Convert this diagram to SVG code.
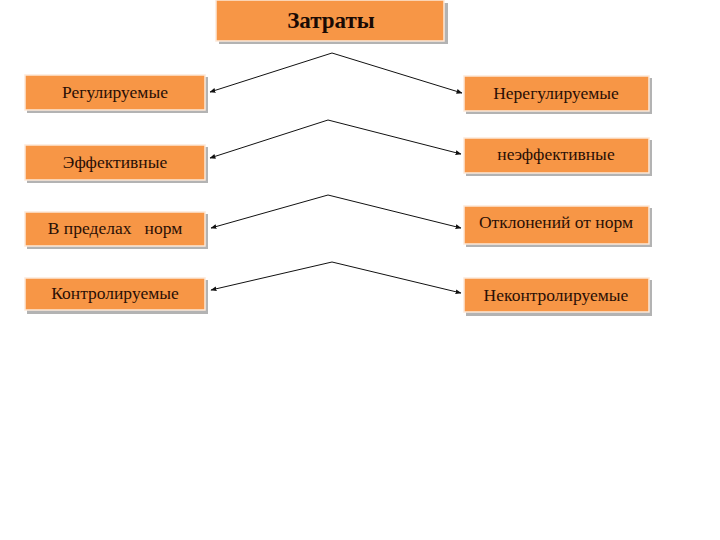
<svg xmlns="http://www.w3.org/2000/svg" width="720" height="540" viewBox="0 0 720 540">
<defs>
<style>
.sh{fill:#9a9a9a;opacity:0.75}
.bx{fill:#F79646;stroke:#FDE9D9;stroke-width:1.5}
.t{font-family:"Liberation Serif","Times New Roman",serif;font-size:17.5px;fill:#2a0f05;text-anchor:middle;white-space:pre}
.tt{font-family:"Liberation Serif","Times New Roman",serif;font-size:23px;font-weight:bold;fill:#1a0a04;text-anchor:middle}
.c{fill:none;stroke:#111;stroke-width:1}
</style>
<marker id="ah" viewBox="0 0 10 10" refX="9" refY="5" markerWidth="6" markerHeight="6" orient="auto-start-reverse">
<path d="M0,1 L10,5 L0,9 z" fill="#111"/>
</marker>
</defs>
<rect width="720" height="540" fill="#fff"/>
<g id="connectors">
<polyline class="c" points="210,92 332,53 462,93" marker-start="url(#ah)" marker-end="url(#ah)"/>
<polyline class="c" points="210,158 328,120 461,154" marker-start="url(#ah)" marker-end="url(#ah)"/>
<polyline class="c" points="211,228 328,195 461,228" marker-start="url(#ah)" marker-end="url(#ah)"/>
<polyline class="c" points="211,290 332,262 461,293" marker-start="url(#ah)" marker-end="url(#ah)"/>
</g>
<g id="n-title">
<rect class="sh" x="219" y="3" width="229" height="41"/>
<rect class="bx" x="216" y="0" width="228" height="41"/>
<text class="tt" x="331" y="28">Затраты</text>
</g>
<g id="n-l1">
<rect class="sh" x="27" y="77" width="181" height="36"/>
<rect class="bx" x="25" y="75" width="180" height="35"/>
<text class="t" x="115" y="98">Регулируемые</text>
</g>
<g id="n-r1">
<rect class="sh" x="466" y="78" width="186" height="36"/>
<rect class="bx" x="464" y="76" width="185" height="35"/>
<text class="t" x="556" y="99">Нерегулируемые</text>
</g>
<g id="n-l2">
<rect class="sh" x="27" y="147" width="181" height="36"/>
<rect class="bx" x="25" y="145" width="180" height="35"/>
<text class="t" x="115" y="168">Эффективные</text>
</g>
<g id="n-r2">
<rect class="sh" x="466" y="140" width="186" height="36"/>
<rect class="bx" x="464" y="138" width="185" height="35"/>
<text class="t" x="556" y="160">неэффективные</text>
</g>
<g id="n-l3">
<rect class="sh" x="27" y="214" width="181" height="35"/>
<rect class="bx" x="25" y="212" width="180" height="34"/>
<text class="t" x="115" y="234" xml:space="preserve">В пределах   норм</text>
</g>
<g id="n-r3">
<rect class="sh" x="466" y="208" width="186" height="39"/>
<rect class="bx" x="464" y="206" width="185" height="38"/>
<text class="t" x="556" y="228">Отклонений от норм</text>
</g>
<g id="n-l4">
<rect class="sh" x="27" y="280" width="181" height="34"/>
<rect class="bx" x="25" y="278" width="180" height="32"/>
<text class="t" x="115" y="299">Контролируемые</text>
</g>
<g id="n-r4">
<rect class="sh" x="466" y="280" width="186" height="36"/>
<rect class="bx" x="464" y="278" width="185" height="34"/>
<text class="t" x="556" y="301">Неконтролируемые</text>
</g>
</svg>
